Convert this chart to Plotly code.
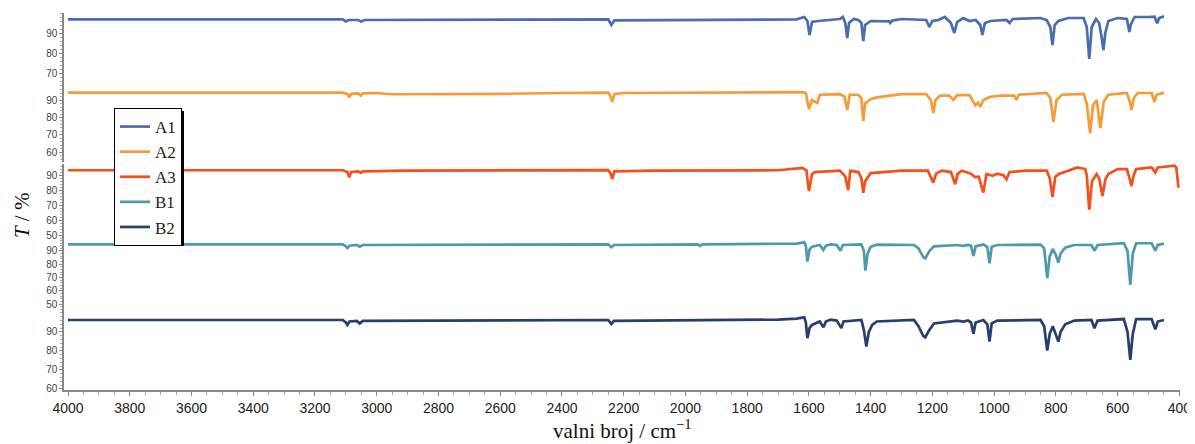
import plotly.graph_objects as go

# Spektri (valni broj / cm-1 i transmitancija / %)
a1_wn = [4000, 3110, 3100, 3090, 3060, 3050, 3040, 2250, 2240, 2230, 1640, 1615, 1605, 1598, 1590,
         1570, 1500, 1490, 1482, 1476, 1470, 1455, 1440, 1430, 1424, 1418, 1400, 1340, 1337, 1330,
         1300, 1220, 1210, 1200, 1180, 1160, 1140, 1129, 1120, 1100, 1080, 1060, 1045, 1038, 1030,
         1012, 960, 950, 940, 850, 830, 818, 811, 804, 792, 760, 710, 700, 692, 684, 670, 660, 652,
         646, 640, 630, 600, 570, 565, 562, 558, 545, 500, 480, 474, 471, 466, 450]
a1_t = [96.8, 96.8, 95.8, 96.5, 96.5, 95.8, 96.5, 96.8, 94, 96.3, 96.8, 98, 96, 89, 95.5,
        96, 97, 98, 95, 87.5, 95, 97, 96.5, 95, 86, 94, 96, 95.8, 95, 96.2,
        97, 96.5, 93, 96, 96.5, 98, 95, 90, 95.5, 97.5, 96, 96.5, 94, 89, 95,
        96, 96.5, 95, 97, 97.5, 96.5, 93, 84, 94, 96, 97.5, 97.5, 93, 77, 93, 97, 95, 88,
        81.5, 90, 96, 97.5, 97, 93, 90.5, 94, 98, 98, 98.2, 95.5, 95, 97.5, 98.3]

a2_wn = [4000, 3110, 3095, 3089, 3083, 3060, 3052, 3045, 3000, 2950, 2600, 2450, 2400, 2250, 2242,
         2237, 2230, 2200, 1700, 1620, 1610, 1600, 1590, 1573, 1565, 1500, 1485, 1476, 1468, 1440,
         1430, 1424, 1418, 1400, 1380, 1300, 1220, 1205, 1197, 1190, 1175, 1145, 1132, 1120, 1080,
         1061, 1052, 1045, 1035, 1015, 980, 935, 928, 920, 830, 818, 808, 798, 780, 710, 700, 689,
         680, 668, 656, 645, 630, 570, 562, 555, 548, 535, 490, 481, 474, 450]
a2_t = [94.2, 94.2, 93.5, 91.5, 93.5, 93.8, 92.5, 93.8, 94, 93.3, 93.5, 93.6, 94, 94.2, 92,
        89, 93.5, 94, 94.3, 94.5, 94, 84.8, 90, 88.3, 93, 93.4, 92, 84.3, 93, 93,
        91, 78, 88, 90.5, 91.5, 93.4, 93.4, 90, 82.6, 90, 92.5, 92.5, 90, 92.8, 92.8,
        87, 88.5, 86, 90, 91.7, 92.5, 92.5, 90, 93, 94, 91, 77.4, 90, 93, 93.5, 88, 71,
        87, 90, 74, 89, 93, 94, 90, 84.3, 91, 94, 94, 89, 93, 94.2]

a3_wn = [4000, 3110, 3095, 3089, 3083, 3060, 3052, 3045, 2900, 2650, 2250, 2242, 2237, 2230, 2100,
         1700, 1620, 1608, 1600, 1590, 1580, 1500, 1482, 1473, 1466, 1440, 1430, 1424, 1418, 1400,
         1300, 1215, 1205, 1197, 1188, 1170, 1140, 1126, 1118, 1105, 1075, 1062, 1050, 1035, 1025,
         1005, 990, 970, 960, 950, 900, 830, 820, 811, 802, 790, 730, 705, 700, 692, 683, 668, 660,
         649, 640, 630, 600, 570, 563, 555, 548, 540, 490, 478, 470, 440, 415, 410, 403]
a3_t = [93.2, 93.2, 92, 88.5, 92, 92.5, 91.5, 92.5, 93, 93, 93.3, 91, 87.3, 92.5, 93,
        93.2, 94.7, 93, 79.5, 90.7, 92, 93, 89, 80.2, 92.9, 92, 88, 78.4, 86, 91.3,
        92.9, 92.9, 89, 85.1, 91, 92.9, 92, 84, 91, 92.9, 91, 88.7, 89, 78.5, 90.7,
        89.6, 91, 90, 87.3, 92, 92.9, 92.9, 88, 75.8, 89, 90.7, 95.1, 94, 90, 67.3, 86, 90.7, 88,
        76.2, 87, 90.7, 94, 94, 89, 82.9, 90, 94, 95.1, 91.8, 95, 95.6, 96.2, 95, 81.8]

b1_wn = [4000, 3110, 3100, 3095, 3088, 3065, 3055, 3045, 2250, 2240, 2232, 1960, 1952, 1945, 1640,
         1615, 1610, 1605, 1598, 1590, 1565, 1553, 1545, 1530, 1510, 1498, 1490, 1430, 1422, 1417,
         1410, 1400, 1380, 1260, 1245, 1230, 1223, 1210, 1195, 1120, 1100, 1085, 1075, 1067, 1060,
         1035, 1022, 1015, 1008, 990, 850, 838, 828, 820, 810, 800, 792, 785, 770, 740, 685, 675,
         665, 580, 568, 559, 551, 540, 490, 478, 470, 450]
b1_t = [95, 95, 93.5, 92.2, 94, 94.5, 93.2, 94.5, 95, 92.8, 94.5, 95, 93.8, 95, 95.5,
        96.5, 94, 82, 91, 93.2, 94.5, 90.7, 94, 95, 94.5, 90.2, 94.5, 95, 90, 75.2,
        88, 93.2, 94.8, 94.5, 92, 85.5, 84.5, 90, 93.5, 94.5, 93.8, 94.5, 94, 86.2, 93.5,
        95, 93, 80.7, 93.2, 94.5, 94.8, 92, 69.5, 86, 91.5, 87, 81.2, 88, 92.5, 94.5, 94.5, 90.2,
        94.5, 95.8, 90, 64.4, 88, 95.8, 95.8, 90.2, 94.5, 95.5]

b2_wn = [4000, 3110, 3100, 3095, 3088, 3065, 3055, 3045, 2250, 2240, 2232, 1700, 1640, 1615, 1610,
         1605, 1598, 1590, 1565, 1553, 1545, 1530, 1510, 1495, 1488, 1430, 1422, 1414, 1406, 1395,
         1380, 1260, 1245, 1230, 1223, 1210, 1195, 1120, 1100, 1085, 1075, 1067, 1060, 1035, 1022,
         1015, 1008, 990, 850, 838, 828, 820, 810, 800, 792, 785, 770, 740, 685, 675, 665, 580, 568,
         559, 551, 540, 490, 478, 470, 450]
b2_t = [96.3, 96.3, 95, 93.7, 95.5, 95.8, 94.5, 95.8, 96.3, 94.2, 95.8, 96.5, 97, 97.7, 95,
        86.7, 92, 93.7, 95.5, 92.5, 95.5, 96.5, 96, 92, 95.5, 96.3, 91, 82.3, 90, 93.7,
        95.5, 96.3, 93, 88, 87.2, 91, 94.5, 96, 95.5, 96, 95, 89, 95, 96.3, 94,
        84.9, 94.5, 96, 96.3, 93, 80.2, 89, 93, 89, 84.9, 90, 94, 96, 96.3, 92, 96, 96.8, 90,
        75.3, 89, 96.8, 96.8, 91.4, 95.5, 96.3]

nazivi = ['A1', 'A2', 'A3', 'B1', 'B2']
boje = ['#4a6db0', '#f59c38', '#f5501c', '#4d9aaa', '#283f6e']
spektri = [(a1_wn, a1_t), (a2_wn, a2_t), (a3_wn, a3_t), (b1_wn, b1_t), (b2_wn, b2_t)]

# Raspored panela (odozgo prema dolje): domena i raspon osi y
domene = [[0.8037, 1.0], [0.6048, 0.8037], [0.3979, 0.5995], [0.2069, 0.3979], [0.0, 0.2069]]
rasponi = [[63, 100], [54.57, 97.43], [47.33, 97.33], [44.1, 98.27], [59.47, 100.5]]
oznake = [[70, 80, 90], [60, 70, 80, 90], [50, 60, 70, 80, 90], [50, 60, 70, 80, 90], [60, 70, 80, 90]]

fig = go.Figure()

for i, (naziv, boja, (wn, t)) in enumerate(zip(nazivi, boje, spektri)):
    fig.add_trace(go.Scatter(
        x=wn, y=t, name=naziv, mode='lines',
        line=dict(color=boja, width=2.7),
        xaxis='x', yaxis='y' if i == 0 else f'y{i + 1}'
    ))

osi_font = dict(family='Liberation Sans, Arial, sans-serif', size=10, color='#444444')
for i in range(5):
    ime = 'yaxis' if i == 0 else f'yaxis{i + 1}'
    fig.layout[ime] = dict(
        domain=domene[i], range=rasponi[i], anchor='x',
        tickvals=oznake[i], ticks='outside', ticklen=3, tickcolor='#888888',
        showline=True, linecolor='#888888', linewidth=1.5,
        showgrid=False, zeroline=False, tickfont=osi_font,
        minor=dict(dtick=2, ticks='outside', ticklen=2, tickcolor='#aaaaaa')
    )

serif = 'Liberation Serif, Times New Roman, serif'

# sjena legende (pomak od 3 px desno i dolje)
fig.add_shape(type='rect', xref='paper', yref='paper',
              x0=(117 - 64) / 1116, x1=(184 - 64) / 1116,
              y0=(390 - 246) / 377, y1=(390 - 111) / 377,
              fillcolor='black', line=dict(width=0), layer='above')

fig.update_layout(
    width=1187, height=436,
    margin=dict(l=56, r=15, t=5, b=54),
    plot_bgcolor='white', paper_bgcolor='white',
    xaxis=dict(
        range=[4013, 398], anchor='y5',
        tickvals=list(range(4000, 399, -200)),
        ticks='outside', ticklen=4, tickcolor='#888888',
        showline=True, linecolor='#888888', linewidth=1.5,
        showgrid=False, zeroline=False,
        tickfont=dict(family='Liberation Sans, Arial, sans-serif', size=14, color='#222222'),
        minor=dict(dtick=50, ticks='outside', ticklen=3, tickcolor='#aaaaaa')
    ),
    showlegend=True,
    legend=dict(
        x=0.0448, y=0.748, xanchor='left', yanchor='top',
        bgcolor='white', bordercolor='black', borderwidth=1,
        font=dict(family=serif, size=17, color='#222222'),
        itemwidth=30, tracegroupgap=0
    ),
    annotations=[
        dict(text='<i>T</i> / %', textangle=-90, xref='paper', yref='paper',
             x=-0.0376, y=0.464, xanchor='center', yanchor='middle', showarrow=False,
             font=dict(family=serif, size=21, color='#111111')),
        dict(text='valni broj / cm<sup>−1</sup>', xref='paper', yref='paper',
             x=0.5, y=-0.106, xanchor='center', yanchor='middle', showarrow=False,
             font=dict(family=serif, size=21, color='#111111'))
    ]
)

fig.write_html("out.html")
